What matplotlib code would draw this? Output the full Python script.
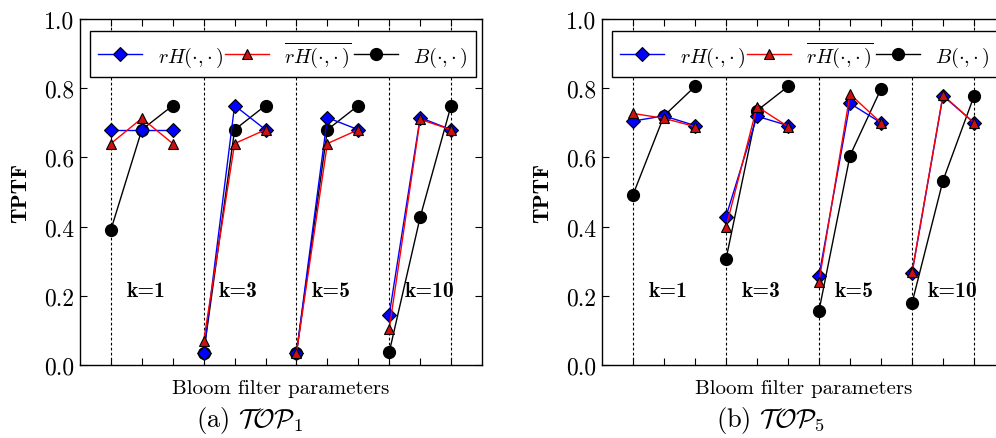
import matplotlib
matplotlib.use('Agg')
import matplotlib.pyplot as plt

plt.rcParams['font.family'] = 'cmr10'
plt.rcParams['mathtext.fontset'] = 'cm'
plt.rcParams['axes.formatter.use_mathtext'] = True

# bloom filter settings, 3 points per k
groups = ['k=1', 'k=3', 'k=5', 'k=10']
xpos = list(range(12))

top1_rh = [0.68, 0.68, 0.68, 0.035, 0.75, 0.68, 0.035, 0.715, 0.68, 0.145, 0.715, 0.68]
top1_rhbar = [0.64, 0.713, 0.64, 0.07, 0.64, 0.68, 0.035, 0.64, 0.68, 0.104, 0.71, 0.68]
top1_b = [0.391, 0.68, 0.75, 0.035, 0.68, 0.75, 0.035, 0.68, 0.75, 0.037, 0.427, 0.75]

top5_rh = [0.705, 0.72, 0.692, 0.429, 0.719, 0.692, 0.258, 0.756, 0.70, 0.265, 0.778, 0.70]
top5_rhbar = [0.727, 0.713, 0.689, 0.398, 0.747, 0.689, 0.241, 0.783, 0.70, 0.268, 0.78, 0.70]
top5_b = [0.492, 0.72, 0.805, 0.306, 0.735, 0.805, 0.157, 0.605, 0.798, 0.179, 0.533, 0.777]

yticks = [0.0, 0.2, 0.4, 0.6, 0.8, 1.0]

fig = plt.figure(figsize=(9.96, 4.39), dpi=100)
ax1 = fig.add_axes([80 / 996, 1 - 366 / 439, 402 / 996, 346 / 439])
ax2 = fig.add_axes([602 / 996, 1 - 366 / 439, 403 / 996, 346 / 439])


def panel(ax, rh, rhbar, b):
    # dotted separators at start of every group and at the last point
    for xv in [xpos[3 * i] for i in range(len(groups))] + [xpos[-1]]:
        ax.axvline(xv, color='black', lw=0.8, ls=(0, (2.5, 2)), zorder=1)
    for i, lab in enumerate(groups):
        sl = slice(3 * i, 3 * i + 3)
        xs = xpos[sl]
        lb, = ax.plot(xs, b[sl], color='black', lw=1, marker='o', ms=8.5,
                      mfc='black', mec='black', zorder=3)
        l1, = ax.plot(xs, rh[sl], color='blue', lw=1, marker='D', ms=6.8,
                      mfc='blue', mec='black', mew=0.8, zorder=4)
        l2, = ax.plot(xs, rhbar[sl], color='red', lw=1, marker='^', ms=7.2,
                      mfc='#cc1111', mec='black', mew=0.8, zorder=5)
        ax.text(xs[0] + 0.5, 0.2, lab, fontfamily='cmb10', fontsize=15.5,
                ha='left', va='baseline')
    ax.set_xlim(-1, 12)
    ax.set_ylim(0, 1)
    ax.set_xticks(xpos)
    ax.set_xticklabels([])
    ax.set_yticks(yticks)
    ax.set_yticklabels(['%.1f' % v for v in yticks])
    ax.tick_params(direction='in', top=True, right=True, length=5, width=0.8,
                   labelsize=17, pad=4)
    for s in ax.spines.values():
        s.set_linewidth(1.0)
    ax.set_ylabel('TPTF', fontfamily='cmb10', fontsize=16, labelpad=10)
    ax.set_xlabel('Bloom filter parameters', fontsize=15, labelpad=6)
    leg = ax.legend([l1, l2, lb],
                    [r'$rH(\cdot{,}\cdot)$', r'$\overline{rH(\cdot{,}\cdot)}$', r'$B(\cdot{,}\cdot)$'],
                    loc='upper left', bbox_to_anchor=(0.025, 0.965), borderaxespad=0,
                    ncol=3, fontsize=14.5, numpoints=1, handlelength=2.2,
                    handletextpad=0.75, columnspacing=0.1, fancybox=False,
                    framealpha=1, edgecolor='black', borderpad=0.4)
    leg.get_frame().set_linewidth(1.0)
    leg.set_zorder(10)


panel(ax1, top1_rh, top1_rhbar, top1_b)
panel(ax2, top5_rh, top5_rhbar, top5_b)

fig.text(250 / 996, 1 - 421 / 439, r'(a) $\mathcal{TOP}_1$', fontsize=19,
         ha='center', va='center')
fig.text(771 / 996, 1 - 421 / 439, r'(b) $\mathcal{TOP}_5$', fontsize=19,
         ha='center', va='center')

fig.savefig('out.png', dpi=100)
